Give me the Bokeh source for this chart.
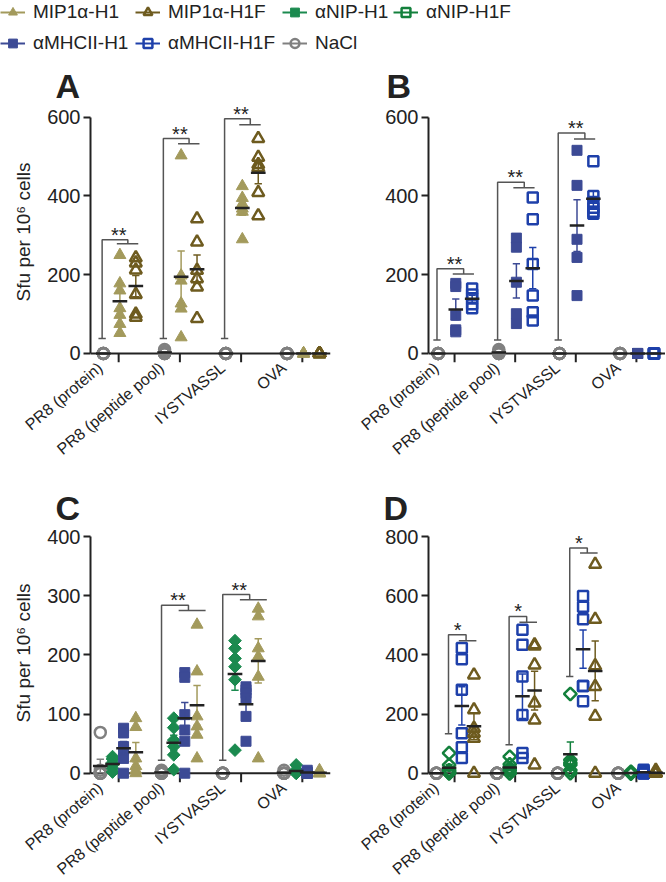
import math
import numpy as np
from bokeh.plotting import figure
from bokeh.models import Range1d, FixedTicker, Span, Legend, LegendItem, LinearAxis
from bokeh.layouts import column, row
from bokeh.embed import file_html
from bokeh.resources import INLINE
from bokeh.core.properties import value

FONT = "Liberation Sans"
INK = "#222222"
BRK = "#555555"

categories = ["PR8 (protein)", "PR8 (peptide pool)", "IYSTVASSL", "OVA"]
y_title = "Sfu per 10\u2076 cells"

# ---------------- Panel A ----------------
A_NaCl = [[0, 0, 0, 0, 0, 0], [10, 5, 0, 0, 0, 0], [0, 0, 0, 0, 0, 0], [0, 0, 0, 0, 0, 0]]
A_MIP_H1 = [[250, 178, 160, 115, 98, 75, 52], [503, 198, 185, 127, 114, 41],
            [425, 395, 380, 368, 360, 290], [0, 0, 0, 0, 0, 0]]
A_MIP_H1F = [[243, 230, 212, 150, 100, 92], [342, 283, 211, 190, 169, 89],
             [546, 498, 480, 472, 409, 350], [0, 0, 0, 0, 0, 0]]
A_yticks = [0, 200, 400, 600]
A_br_cat = [1, 2, 3]
A_br_sig = ["**", "**", "**"]
A_br_low = [38, 38, 38]
A_br_top = [289, 546, 596]
A_br_sub = [279, 533, 581]

# ---------------- Panel B ----------------
B_NaCl = [[0, 0, 0, 0, 0, 0], [10, 5, 0, 0, 0, 0], [0, 0, 0, 0, 0, 0], [0, 0, 0, 0, 0, 0]]
B_MHC_H1 = [[178, 170, 97, 60, 55], [293, 270, 181, 101, 76],
            [516, 427, 290, 244, 147], [0, 0, 0, 0, 0]]
B_MHC_H1F = [[165, 150, 140, 125, 115], [396, 341, 227, 147, 105, 84],
             [488, 400, 385, 370, 360, 355], [0, 0, 0, 0, 0]]
B_yticks = [0, 200, 400, 600]
B_br_cat = [1, 2, 3]
B_br_sig = ["**", "**", "**"]
B_br_low = [34, 34, 34]
B_br_top = [215, 435, 560]
B_br_sub = [202, 421, 545]

# ---------------- Panel C ----------------
C_NaCl = [[69, 5, 0, 0, 0, 0], [5, 3, 0, 0, 0, 0], [0, 0, 0, 0, 0, 0], [5, 0, 0, 0, 0, 0]]
C_NIP_H1 = [[28, 24, 18, 14, 8, 2], [93, 77, 56, 45, 31, 6],
            [224, 211, 194, 180, 158, 39], [14, 6, 3, 0, 0, 0]]
C_MHC_H1 = [[76, 68, 45, 40, 25, 0], [170, 162, 99, 73, 54, 0],
            [146, 141, 135, 127, 96, 54], [5, 2, 0, 0, 0, 0]]
C_MIP_H1 = [[93, 78, 25, 12, 5, 0], [251, 172, 96, 79, 65, 25],
            [278, 265, 211, 197, 163, 25], [5, 0, 0, 0, 0, 0]]
C_yticks = [0, 100, 200, 300, 400]
C_br_cat = [2, 3]
C_br_sig = ["**", "**"]
C_br_low = [22, 22]
C_br_top = [284, 302]
C_br_sub = [275, 293]

# ---------------- Panel D ----------------
D_NaCl = [[0, 0, 0, 0, 0, 0], [0, 0, 0, 0, 0, 0], [0, 0, 0, 0, 0, 0], [0, 0, 0, 0, 0, 0]]
D_NIP_H1F = [[68, 28, 10, 5, 0, 0], [56, 30, 18, 10, 0, 0],
             [268, 45, 35, 28, 10, 0], [5, 0, 0, 0, 0, 0]]
D_MHC_H1F = [[423, 385, 282, 135, 88, 51], [485, 434, 327, 197, 68, 51],
             [599, 563, 520, 295, 295, 243], [12, 5, 0, 0, 0, 0]]
D_MIP_H1F = [[332, 214, 152, 135, 118, 0], [434, 430, 366, 237, 180, 28],
             [706, 520, 363, 293, 192, 0], [10, 0, 0, 0, 0, 0]]
D_yticks = [0, 200, 400, 600, 800]
D_br_cat = [1, 2, 3]
D_br_sig = ["*", "*", "*"]
D_br_low = [133, 96, 327]
D_br_top = [468, 530, 761]
D_br_sub = [448, 510, 744]

# ---------------- styles ----------------
STYLE = {
    "MIP1\u03b1-H1":   dict(marker="triangle", color="#A39A5C", fill=True,  size=12, angle=0.0),
    "MIP1\u03b1-H1F":  dict(marker="triangle", color="#6E5B1F", fill=False, size=12, angle=0.0),
    "\u03b1NIP-H1":    dict(marker="square",   color="#1B8A4F", fill=True,  size=9,  angle=math.pi / 4),
    "\u03b1NIP-H1F":   dict(marker="square",   color="#13803C", fill=False, size=9,  angle=math.pi / 4),
    "\u03b1MHCII-H1":  dict(marker="square",   color="#3C4A95", fill=True,  size=10, angle=0.0),
    "\u03b1MHCII-H1F": dict(marker="square",   color="#1E40AA", fill=False, size=10, angle=0.0),
    "NaCl":            dict(marker="circle",   color="#808080", fill=False, size=11, angle=0.0),
}

LABEL_SHIFT = 0.30
MEAN_HALF = 0.12
CAP_HALF = 0.06


def scatter_kw(name):
    st = STYLE[name]
    kw = dict(marker=st["marker"], size=st["size"], angle=st["angle"], line_color=st["color"])
    if st["fill"]:
        kw.update(fill_color=st["color"], line_width=1)
    else:
        kw.update(fill_color=None, line_width=2.5)
    return kw


def make_panel(letter, title_off, names, data, offs, x_lo, x_hi, y_lo, y_hi, yticks, ylab,
               b_left, f_w, b_right, b_top, f_h, b_bottom,
               br_cat, br_sig, br_low, br_top, br_sub, geo):
    p = figure(frame_width=f_w, frame_height=f_h, min_border_left=b_left,
               min_border_right=b_right, min_border_top=b_top, min_border_bottom=b_bottom,
               x_range=Range1d(x_lo, x_hi), y_range=Range1d(y_lo, y_hi),
               x_axis_location=None, output_backend="svg", toolbar_location=None,
               title=letter)
    p.outline_line_color = None
    p.grid.visible = False
    p.background_fill_color = "white"
    p.border_fill_color = "white"
    p.title.text_font = FONT
    p.title.text_font_size = "34px"
    p.title.text_font_style = "bold"
    p.title.text_color = INK
    p.title.align = "left"
    p.title.offset = title_off
    p.title.standoff = -7

    ya = p.yaxis[0]
    ya.ticker = FixedTicker(ticks=yticks)
    ya.bounds = (yticks[0], yticks[-1])
    ya.axis_line_width = 2
    ya.axis_line_color = INK
    ya.major_tick_line_width = 2
    ya.major_tick_line_color = INK
    ya.major_tick_out = 7
    ya.major_tick_in = 0
    ya.minor_tick_line_color = None
    ya.major_label_text_font = FONT
    ya.major_label_text_font_size = "20px"
    ya.major_label_text_color = INK
    ya.major_label_standoff = 3
    if ylab:
        ya.axis_label = ylab
        ya.axis_label_text_font = FONT
        ya.axis_label_text_font_size = "19px"
        ya.axis_label_text_font_style = "normal"
        ya.axis_label_text_color = INK
        ya.axis_label_standoff = 10

    p.extra_x_ranges = {"lab": Range1d(x_lo + LABEL_SHIFT, x_hi + LABEL_SHIFT)}
    cat_pos = list(range(1, len(categories) + 1))
    xa = LinearAxis(x_range_name="lab", ticker=FixedTicker(ticks=cat_pos),
                    major_label_overrides={i: c for i, c in zip(cat_pos, categories)},
                    major_label_orientation=math.radians(40),
                    axis_line_color=None, major_tick_line_color=None,
                    minor_tick_line_color=None, major_tick_in=0, major_tick_out=0,
                    major_label_text_font=FONT, major_label_text_font_size="16px",
                    major_label_text_color=INK, major_label_standoff=3)
    p.add_layout(xa, "below")

    # x axis line at zero and category ticks
    p.add_layout(Span(location=0, dimension="width", line_color=INK, line_width=2,
                      level="underlay"))
    p.segment(x0=cat_pos, y0=[0] * len(cat_pos), x1=cat_pos, y1=[y_lo] * len(cat_pos),
              line_color=INK, line_width=2)

    # points
    for name, groups, off in zip(names, data, offs):
        xs, ys = [], []
        for i, g in enumerate(groups):
            xs += [i + 1 + off] * len(g)
            ys += list(g)
        p.scatter(xs, ys, **scatter_kw(name))

    # mean +/- SEM
    for name, groups, off in zip(names, data, offs):
        c = STYLE[name]["color"]
        xc, mu, lo, hi = [], [], [], []
        for i, g in enumerate(groups):
            a = np.asarray(g, dtype=float)
            m = a.mean()
            se = a.std(ddof=1) / math.sqrt(len(a))
            xc.append(i + 1 + off)
            mu.append(m)
            lo.append(m - se)
            hi.append(m + se)
        xc = np.array(xc)
        p.segment(x0=xc, y0=lo, x1=xc, y1=hi, line_color=c, line_width=1.5)
        p.segment(x0=xc - CAP_HALF, y0=lo, x1=xc + CAP_HALF, y1=lo, line_color=c, line_width=1.5)
        p.segment(x0=xc - CAP_HALF, y0=hi, x1=xc + CAP_HALF, y1=hi, line_color=c, line_width=1.5)
        p.segment(x0=xc - MEAN_HALF, y0=mu, x1=xc + MEAN_HALF, y1=mu, line_color=INK, line_width=2.5)

    # significance brackets
    leg, cx, s0, s1, sx = geo
    xs_l, ys_l = [], []
    tx, ty = [], []
    for k, lo_v, top_v, sub_v in zip(br_cat, br_low, br_top, br_sub):
        xs_l.append([k + leg, k + leg, k + cx, k + cx])
        ys_l.append([lo_v, top_v, top_v, sub_v])
        xs_l.append([k + s0, k + s1])
        ys_l.append([sub_v, sub_v])
        xs_l.append([k + leg - CAP_HALF, k + leg + CAP_HALF])
        ys_l.append([lo_v, lo_v])
        tx.append(k + sx)
        ty.append(top_v)
    p.multi_line(xs_l, ys_l, line_color=BRK, line_width=1.5)
    p.text(x=tx, y=ty, text=br_sig, text_align="center", text_baseline="alphabetic",
           text_font=value(FONT), text_font_size="20px", text_color=INK, y_offset=-5)
    return p


NAMES_A = ["NaCl", "MIP1\u03b1-H1", "MIP1\u03b1-H1F"]
NAMES_B = ["NaCl", "\u03b1MHCII-H1", "\u03b1MHCII-H1F"]
NAMES_C = ["NaCl", "\u03b1NIP-H1", "\u03b1MHCII-H1", "MIP1\u03b1-H1"]
NAMES_D = ["NaCl", "\u03b1NIP-H1F", "\u03b1MHCII-H1F", "MIP1\u03b1-H1F"]

pA = make_panel("A", -35, NAMES_A, [A_NaCl, A_MIP_H1, A_MIP_H1F], [-0.25, 0.02, 0.28],
                0.54, 4.46, -22.9, 640, A_yticks, y_title, 90, 240, 3, 46, 261, 100,
                A_br_cat, A_br_sig, A_br_low, A_br_top, A_br_sub,
                (-0.27, 0.15, -0.03, 0.32, 0.0))
pB = make_panel("B", -42, NAMES_B, [B_NaCl, B_MHC_H1, B_MHC_H1F], [-0.27, 0.02, 0.29],
                0.57, 4.48, -22.9, 640, B_yticks, None, 95, 237, 0, 46, 261, 100,
                B_br_cat, B_br_sig, B_br_low, B_br_top, B_br_sub,
                (-0.29, 0.15, -0.03, 0.32, 0.0))
pC = make_panel("C", -35, NAMES_C, [C_NaCl, C_NIP_H1, C_MHC_H1, C_MIP_H1],
                [-0.30, -0.10, 0.08, 0.28],
                0.54, 4.46, -15.7, 422, C_yticks, y_title, 90, 240, 3, 56, 259, 100,
                C_br_cat, C_br_sig, C_br_low, C_br_top, C_br_sub,
                (-0.30, 0.14, -0.02, 0.42, -0.03))
pD = make_panel("D", -45, NAMES_D, [D_NaCl, D_NIP_H1F, D_MHC_H1F, D_MIP_H1F],
                [-0.30, -0.09, 0.12, 0.32],
                0.57, 4.48, -31.4, 844, D_yticks, None, 95, 237, 0, 56, 259, 100,
                D_br_cat, D_br_sig, D_br_low, D_br_top, D_br_sub,
                (-0.10, 0.19, 0.07, 0.36, 0.05))

# ---------------- legend ----------------
legend_cols = [["MIP1\u03b1-H1", "\u03b1MHCII-H1"],
               ["MIP1\u03b1-H1F", "\u03b1MHCII-H1F"],
               ["\u03b1NIP-H1", "NaCl"],
               ["\u03b1NIP-H1F"]]
legend_col_x = [0, 135, 282, 393]

LH = 55
ITEM_H = 22
ITEM_GAP = 9
lf = figure(width=665, height=LH, x_range=Range1d(0, 1), y_range=Range1d(0, 1),
            x_axis_location=None, y_axis_location=None, min_border=0,
            output_backend="svg", toolbar_location=None)
lf.outline_line_color = None
lf.grid.visible = False

rends = {}
for name, st in STYLE.items():
    # dummy renderers placed outside the visible range: they only feed the legend
    r1 = lf.line(x=[5, 6], y=[5, 5], line_color=st["color"], line_width=2)
    r2 = lf.scatter(x=[5], y=[5], **scatter_kw(name))
    rends[name] = [r1, r2]

for col, x0 in zip(legend_cols, legend_col_x):
    n = len(col)
    h = n * ITEM_H + (n - 1) * ITEM_GAP
    leg = Legend(items=[LegendItem(label=nm, renderers=rends[nm]) for nm in col],
                 location=(x0, LH - 1 - h), orientation="vertical",
                 label_text_font=FONT, label_text_font_size="19px", label_text_color=INK,
                 label_height=ITEM_H, glyph_height=ITEM_H, glyph_width=25, label_standoff=8,
                 spacing=ITEM_GAP, padding=0, margin=0, border_line_color=None,
                 background_fill_alpha=0)
    lf.add_layout(leg)

layout = column(lf, row(pA, pB), row(pC, pD))
open("out.html", "w").write(file_html(layout, INLINE))
